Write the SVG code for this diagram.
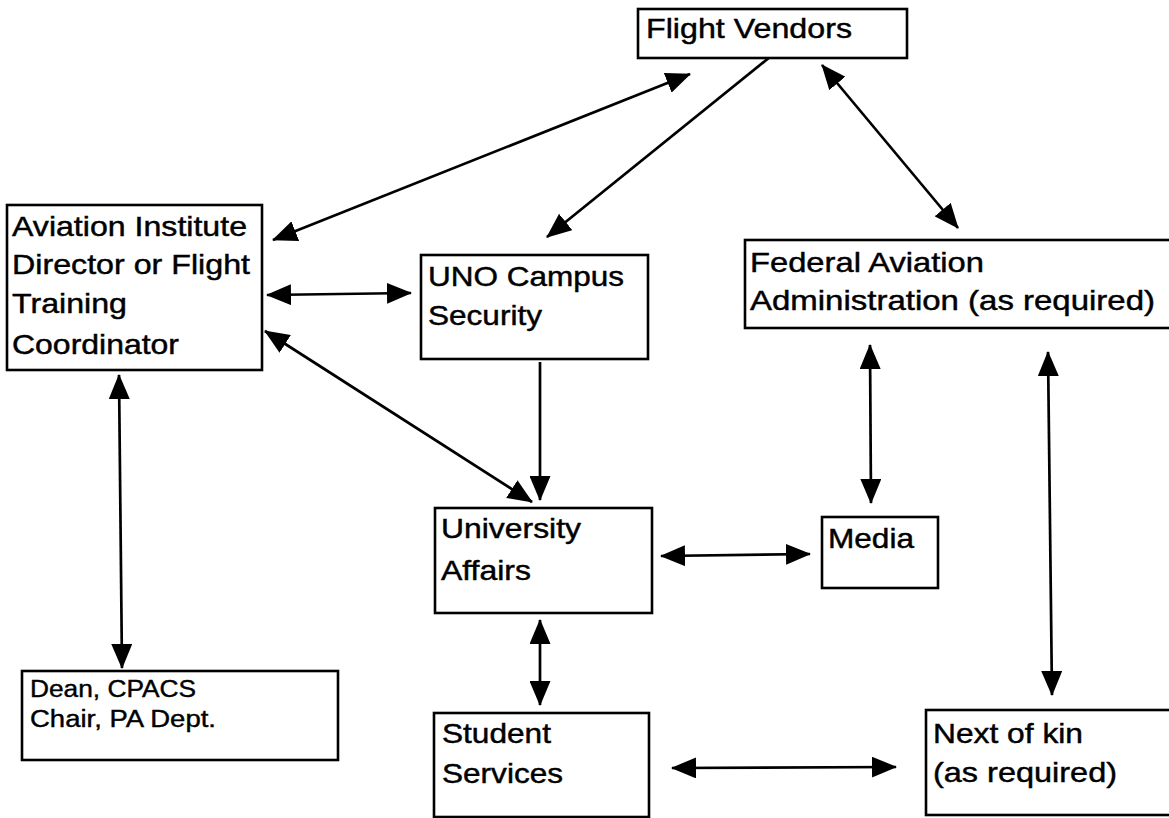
<svg xmlns="http://www.w3.org/2000/svg" width="1169" height="818" viewBox="0 0 1169 818">
<style>
.box{fill:#fff;stroke:#000;stroke-width:2.6}
.t{font-family:"Liberation Sans",Arial,sans-serif;font-size:28px;fill:#000;stroke:#000;stroke-width:0.45}
.s{font-family:"Liberation Sans",Arial,sans-serif;font-size:23px;fill:#000;stroke:#000;stroke-width:0.4}
.c{stroke:#000;stroke-width:2.7;fill:none}
.one{marker-end:url(#ah)}
.two{marker-start:url(#ah);marker-end:url(#ah)}
</style>
<defs>
<marker id="ah" viewBox="0 0 25 21" refX="24" refY="10.5" markerWidth="25" markerHeight="21" markerUnits="userSpaceOnUse" orient="auto-start-reverse">
<path d="M0,0 L25,10.5 L0,21 Z" fill="#000"/>
</marker>
</defs>
<rect width="1169" height="818" fill="#fff"/>
<g id="connectors">
<line class="c two" x1="273" y1="240" x2="690" y2="74"/>
<line class="c one" x1="770" y1="57" x2="547" y2="237"/>
<line class="c two" x1="822" y1="65" x2="958" y2="228"/>
<line class="c two" x1="267" y1="295" x2="411" y2="293"/>
<line class="c two" x1="265" y1="331" x2="532" y2="502"/>
<line class="c one" x1="540" y1="362" x2="540" y2="500"/>
<line class="c two" x1="119" y1="375" x2="122" y2="668"/>
<line class="c two" x1="540" y1="620" x2="540" y2="705"/>
<line class="c two" x1="661" y1="556" x2="810" y2="554"/>
<line class="c two" x1="870" y1="345" x2="871" y2="503"/>
<line class="c two" x1="1048" y1="352" x2="1052" y2="695"/>
<line class="c two" x1="672" y1="768" x2="896" y2="767"/>
</g>
<g id="flight-vendors">
<rect class="box" x="638" y="9" width="269" height="49"/>
<text class="t" x="646" y="38" textLength="206" lengthAdjust="spacingAndGlyphs">Flight Vendors</text>
</g>
<g id="aviation-institute">
<rect class="box" x="7" y="205" width="255" height="165"/>
<text class="t" x="12" y="236" textLength="235" lengthAdjust="spacingAndGlyphs">Aviation Institute</text>
<text class="t" x="12" y="274" textLength="238" lengthAdjust="spacingAndGlyphs">Director or Flight</text>
<text class="t" x="12" y="313" textLength="115" lengthAdjust="spacingAndGlyphs">Training</text>
<text class="t" x="12" y="354" textLength="167" lengthAdjust="spacingAndGlyphs">Coordinator</text>
</g>
<g id="uno-campus-security">
<rect class="box" x="421" y="255" width="227" height="104"/>
<text class="t" x="428" y="286" textLength="196" lengthAdjust="spacingAndGlyphs">UNO Campus</text>
<text class="t" x="428" y="325" textLength="114" lengthAdjust="spacingAndGlyphs">Security</text>
</g>
<g id="faa">
<rect class="box" x="745" y="240" width="432" height="88"/>
<text class="t" x="750" y="272" textLength="234" lengthAdjust="spacingAndGlyphs">Federal Aviation</text>
<text class="t" x="750" y="310" textLength="405" lengthAdjust="spacingAndGlyphs">Administration (as required)</text>
</g>
<g id="university-affairs">
<rect class="box" x="435" y="508" width="217" height="105"/>
<text class="t" x="441" y="538" textLength="140" lengthAdjust="spacingAndGlyphs">University</text>
<text class="t" x="441" y="580" textLength="90" lengthAdjust="spacingAndGlyphs">Affairs</text>
</g>
<g id="media">
<rect class="box" x="822" y="517" width="116" height="71"/>
<text class="t" x="828" y="548" textLength="86" lengthAdjust="spacingAndGlyphs">Media</text>
</g>
<g id="dean">
<rect class="box" x="22" y="671" width="316" height="89"/>
<text class="s" x="30" y="697" textLength="166" lengthAdjust="spacingAndGlyphs">Dean, CPACS</text>
<text class="s" x="30" y="727" textLength="186" lengthAdjust="spacingAndGlyphs">Chair, PA Dept.</text>
</g>
<g id="student-services">
<rect class="box" x="434" y="713" width="215" height="104"/>
<text class="t" x="442" y="743" textLength="109" lengthAdjust="spacingAndGlyphs">Student</text>
<text class="t" x="442" y="783" textLength="121" lengthAdjust="spacingAndGlyphs">Services</text>
</g>
<g id="next-of-kin">
<rect class="box" x="926" y="710" width="250" height="105"/>
<text class="t" x="933" y="743" textLength="150" lengthAdjust="spacingAndGlyphs">Next of kin</text>
<text class="t" x="933" y="782" textLength="184" lengthAdjust="spacingAndGlyphs">(as required)</text>
</g>
</svg>
